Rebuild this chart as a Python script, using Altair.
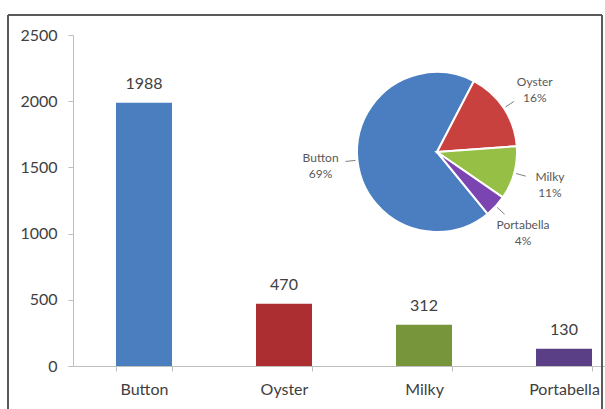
import math
import altair as alt
import pandas as pd

# Mushroom yields by type
categories = ["Button", "Oyster", "Milky", "Portabella"]
yields = [1988, 470, 312, 130]
bar_colors = ["#4a7ebf", "#ac2e31", "#77953b", "#5b3f86"]
pie_colors = ["#4a7ec0", "#c8413f", "#95bf45", "#7b44b0"]
y_ticks = [0, 500, 1000, 1500, 2000, 2500]

df = pd.DataFrame({
    "cat": categories,
    "yield": yields,
    "bar_color": bar_colors,
    "pie_color": pie_colors,
    "idx": list(range(len(categories))),
})

FONT = "Lato"
W, H = 532, 331
# pie placement inside the plot area
CX, CY, R = 364, 117, 80
A0 = 2.456  # angle where the first slice begins (radians, clockwise from top)

base = alt.Chart(df)

bars = base.mark_bar().encode(
    x=alt.X(
        "cat:N",
        sort=categories,
        title=None,
        scale=alt.Scale(range=[0, 562], paddingInner=0.6, paddingOuter=0.307),
        axis=alt.Axis(
            labelAngle=0, labelFont=FONT, labelFontSize=16, labelColor="#404040",
            labelPadding=10, tickBand="extent", tickSize=5, tickColor="#bfbfbf",
            domainColor="#bfbfbf", grid=False,
        ),
    ),
    y=alt.Y(
        "yield:Q",
        title=None,
        scale=alt.Scale(domain=[0, 2500], nice=False),
        axis=alt.Axis(
            values=y_ticks, format="d", labelFont=FONT, labelFontSize=16,
            labelColor="#404040", labelPadding=11, tickSize=5, tickColor="#bfbfbf",
            domainColor="#bfbfbf", grid=False,
        ),
    ),
    color=alt.Color("bar_color:N", scale=None),
)

bar_labels = base.mark_text(
    font=FONT, fontSize=16, color="#404040", baseline="middle", dy=-19
).encode(
    x=alt.X("cat:N", sort=categories),
    y=alt.Y("yield:Q"),
    text=alt.Text("yield:Q"),
)

bar_layer = alt.layer(bars, bar_labels)

theta_scale = alt.Scale(range=[A0, A0 + 2 * math.pi])

pie = base.mark_arc(stroke="white", strokeWidth=2).encode(
    theta=alt.Theta("yield:Q", stack=True, scale=theta_scale),
    order=alt.Order("idx:Q"),
    color=alt.Color("pie_color:N", scale=None),
    x=alt.value(CX),
    y=alt.value(CY),
    radius=alt.value(R),
)

pie_labels = base.transform_joinaggregate(
    total="sum(yield)"
).transform_calculate(
    label="[datum.cat, format(datum.yield / datum.total, '.0%')]"
).mark_text(
    radius=117, font=FONT, fontSize=12, color="#595959", baseline="middle",
    lineHeight=16, dy=-6
).encode(
    theta=alt.Theta("yield:Q", stack=True, scale=theta_scale),
    order=alt.Order("idx:Q"),
    text="label:N",
    x=alt.value(CX),
    y=alt.value(CY),
)

# short leader lines from the rim towards each label
leaders = base.transform_joinaggregate(
    total="sum(yield)"
).transform_window(
    cum="sum(yield)", sort=[alt.SortField("idx")], frame=[None, 0]
).transform_calculate(
    mid=f"{A0} + 2 * PI * (datum.cum - datum.yield / 2) / datum.total"
).transform_calculate(
    lx1=f"{CX} + {R + 2} * sin(datum.mid)",
    ly1=f"{CY} - {R + 2} * cos(datum.mid)",
    lx2=f"{CX} + {R + 12} * sin(datum.mid)",
    ly2=f"{CY} - {R + 12} * cos(datum.mid)",
).mark_rule(color="#7f7f7f", strokeWidth=1).encode(
    x=alt.X("lx1:Q", scale=None, axis=None),
    y=alt.Y("ly1:Q", scale=None, axis=None),
    x2="lx2:Q",
    y2="ly2:Q",
)

# outer frame around the figure
frame_left = alt.Chart(df).mark_rule(color="#595959", strokeWidth=1.5).encode(
    x=alt.value(-65), y=alt.value(-20), y2=alt.value(H + 60)
)
frame_top = alt.Chart(df).mark_rule(color="#595959", strokeWidth=1.5).encode(
    x=alt.value(-65), x2=alt.value(529), y=alt.value(-20)
)
frame_right = alt.Chart(df).mark_rule(color="#595959", strokeWidth=1.5).encode(
    x=alt.value(529), y=alt.value(-20), y2=alt.value(H + 60)
)

chart = alt.layer(
    bar_layer, pie, pie_labels, leaders, frame_left, frame_top, frame_right
).resolve_scale(
    x="independent", y="independent"
).properties(
    width=W,
    height=H,
    autosize=alt.AutoSizeParams(type="none"),
    padding={"left": 73, "top": 35, "right": 0, "bottom": 43},
    background="white",
).configure_view(stroke=None)

chart.save("out.html", embed_options={"renderer": "svg", "actions": False})
